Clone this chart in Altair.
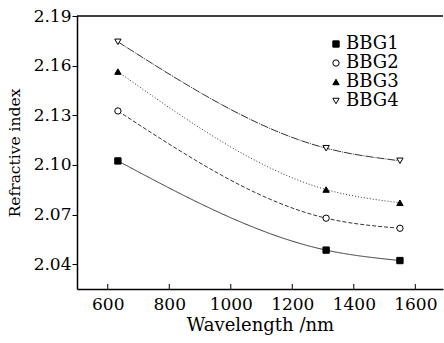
import altair as alt
import pandas as pd

wavelength = [633, 1310, 1550]
bbg1 = [2.1024, 2.0485, 2.0422]
bbg2 = [2.1326, 2.0678, 2.0617]
bbg3 = [2.1564, 2.0851, 2.0771]
bbg4 = [2.1744, 2.1101, 2.1025]
series = ["BBG1", "BBG2", "BBG3", "BBG4"]
x_ticks = [600, 800, 1000, 1200, 1400, 1600]
y_ticks = [2.04, 2.07, 2.10, 2.13, 2.16, 2.19]

rows = []
for name, vals in zip(series, [bbg1, bbg2, bbg3, bbg4]):
    for w, v in zip(wavelength, vals):
        rows.append({"sample": name, "wavelength": w, "n": v})
df = pd.DataFrame(rows)
tick_df = pd.DataFrame({"t": x_ticks})
leg_df = pd.DataFrame({"sample": series})

FONT = "DejaVu Serif"
FS = 17
W, H = 366, 273
xs = alt.Scale(domain=[500, 1690], nice=False, zero=False)
ys = alt.Scale(domain=[2.025, 2.19], nice=False, zero=False)
shape_scale = alt.Scale(domain=series, range=["square", "circle", "triangle-up", "triangle-down"])
fill_scale = alt.Scale(domain=series, range=["black", "white", "black", "white"])
leg_y = alt.Scale(domain=series, range=[28, 85], padding=0)

ax_style = dict(labelFont=FONT, labelFontSize=FS, labelColor="black",
                titleFont=FONT, titleFontWeight="normal", titleColor="black",
                domainColor="black", domainWidth=1.5, tickColor="black", grid=False)

x_enc = alt.X("wavelength:Q", scale=xs,
              axis=alt.Axis(values=x_ticks, format="d", title="Wavelength /nm", ticks=False,
                            titleFontSize=18, labelPadding=7, titlePadding=4, **ax_style))
y_enc = alt.Y("n:Q", scale=ys,
              axis=alt.Axis(values=y_ticks, format=".2f", title="Refractive index",
                            titleFontSize=15.5, tickSize=5, labelPadding=1, titlePadding=11,
                            **ax_style))

lines = alt.Chart(df).mark_line(interpolate="monotone", strokeWidth=1, color="#333333").encode(
    x=x_enc, y=y_enc,
    strokeDash=alt.StrokeDash("sample:N", scale=alt.Scale(domain=series,
                              range=[[1, 0], [4, 2], [1, 2], [8, 1, 1, 1]]), legend=None),
    detail="sample:N",
)

points = alt.Chart(df).mark_point(filled=True, stroke="black", strokeWidth=1, size=40, opacity=1).encode(
    x=alt.X("wavelength:Q", scale=xs),
    y=alt.Y("n:Q", scale=ys, axis=None),
    shape=alt.Shape("sample:N", scale=shape_scale, legend=None),
    fill=alt.Fill("sample:N", scale=fill_scale, legend=None),
)

xticks = alt.Chart(tick_df).mark_rule(color="black", strokeWidth=1).encode(
    x=alt.X("t:Q", scale=xs), y=alt.value(H), y2=alt.value(H - 5))

top = alt.Chart(pd.DataFrame({"a": [0]})).mark_rule(color="black", strokeWidth=1.5).encode(
    x=alt.value(0), x2=alt.value(W), y=alt.value(0))

leg_pts = alt.Chart(leg_df).mark_point(filled=True, stroke="black", strokeWidth=1, size=40, opacity=1).encode(
    x=alt.value(259),
    y=alt.Y("sample:N", scale=leg_y, axis=None),
    shape=alt.Shape("sample:N", scale=shape_scale, legend=None),
    fill=alt.Fill("sample:N", scale=fill_scale, legend=None),
)

leg_txt = alt.Chart(leg_df).mark_text(align="left", baseline="middle", font=FONT,
                                      fontSize=18, color="black").encode(
    x=alt.value(269),
    y=alt.Y("sample:N", scale=leg_y, axis=None),
    text="sample:N",
)

chart = alt.layer(lines, points, xticks, top, leg_pts, leg_txt).resolve_scale(
    y="independent"
).properties(
    width=W, height=H,
    padding={"left": 77, "top": 16, "right": 1, "bottom": 54},
    background="white",
    autosize=alt.AutoSizeParams(type="none"),
).configure_view(stroke=None)

chart.save("out.html", embed_options={"renderer": "svg", "actions": False})
